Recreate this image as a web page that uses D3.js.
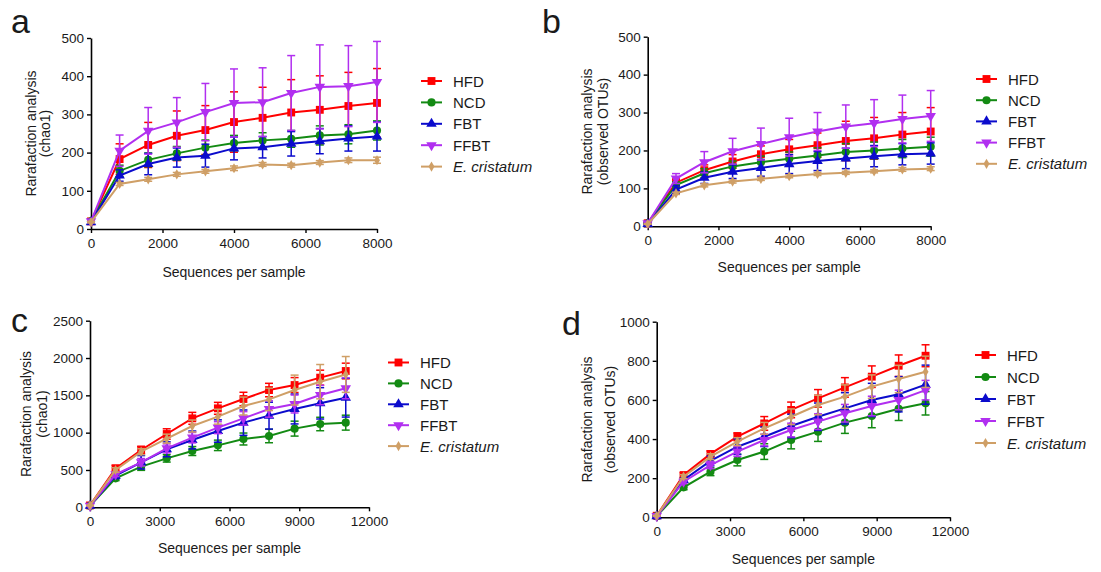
<!DOCTYPE html>
<html>
<head>
<meta charset="utf-8">
<script src="https://cdn.jsdelivr.net/npm/d3@7"></script>
<style>
  body { margin: 0; background: #fff; }
  svg text { font-family: Arial, "Liberation Sans", sans-serif; fill: #1a1a1a; }
</style>
</head>
<body>
<div class="canvas"></div>
<script>
// groups and styles
const groups = ['HFD', 'NCD', 'FBT', 'FFBT', 'E. cristatum'];
const colors = ['#ff0000', '#138a13', '#0b0bcc', '#b12ff0', '#cf9f66'];
const shapes = ['square', 'circle', 'up', 'down', 'diamond'];

// sampling depths
const depthsAB = [0, 800, 1600, 2400, 3200, 4000, 4800, 5600, 6400, 7200, 8000];
const depthsCD = [0, 1100, 2200, 3300, 4400, 5500, 6600, 7700, 8800, 9900, 11000];

// panel a - chao1
const aHFD  = [20, 183, 220, 244, 259, 280, 291, 305, 312, 322, 330];
const aNCD  = [20, 152, 181, 198, 213, 225, 232, 236, 245, 248, 258];
const aFBT  = [18, 140, 170, 187, 192, 211, 214, 223, 230, 237, 242];
const aFFBT = [20, 205, 257, 279, 306, 330, 332, 356, 372, 374, 385];
const aEC   = [18, 118, 130, 143, 151, 159, 169, 167, 174, 180, 180];
const aHFDErr  = [3, 40, 59, 65, 64, 79, 80, 86, 89, 88, 90];
const aNCDErr  = [2, 15, 18, 18, 20, 20, 20, 22, 25, 25, 25];
const aFBTErr  = [2, 15, 28, 25, 30, 30, 28, 32, 33, 33, 38];
const aFFBTErr = [3, 41, 61, 65, 75, 89, 90, 98, 110, 106, 106];
const aECErr   = [2, 4, 5, 5, 5, 6, 5, 5, 5, 6, 8];

// panel b - observed OTUs
const bHFD  = [8, 115, 148, 171, 190, 203, 214, 225, 232, 242, 250];
const bNCD  = [8, 109, 140, 158, 169, 178, 187, 196, 200, 205, 210];
const bFBT  = [6, 97, 128, 144, 154, 164, 172, 179, 185, 190, 192];
const bFFBT = [8, 126, 169, 198, 217, 235, 250, 263, 272, 283, 291];
const bEC   = [6, 87, 108, 118, 125, 132, 138, 141, 145, 150, 152];
const bHFDErr  = [2, 10, 14, 18, 22, 26, 32, 52, 55, 58, 63];
const bNCDErr  = [2, 8, 12, 14, 16, 18, 20, 22, 22, 24, 25];
const bFBTErr  = [2, 10, 15, 18, 22, 25, 25, 27, 28, 28, 28];
const bFFBTErr = [2, 13, 28, 34, 42, 50, 50, 57, 62, 63, 67];
const bECErr   = [1, 3, 4, 4, 4, 4, 4, 4, 4, 5, 5];

// panel c - chao1
const cHFD  = [25, 522, 768, 982, 1192, 1326, 1451, 1571, 1638, 1737, 1826];
const cNCD  = [20, 388, 545, 656, 754, 830, 915, 955, 1054, 1116, 1134];
const cFBT  = [20, 424, 603, 777, 902, 1022, 1134, 1228, 1317, 1393, 1469];
const cFFBT = [20, 442, 603, 790, 933, 1067, 1192, 1317, 1384, 1504, 1594];
const cEC   = [25, 500, 745, 920, 1089, 1214, 1357, 1446, 1571, 1683, 1780];
const cHFDErr  = [5, 40, 50, 70, 80, 80, 90, 90, 100, 100, 105];
const cNCDErr  = [5, 30, 50, 50, 60, 70, 80, 90, 100, 90, 100];
const cFBTErr  = [5, 40, 90, 100, 120, 150, 170, 180, 200, 210, 260];
const cFFBTErr = [5, 30, 50, 60, 70, 80, 90, 110, 120, 130, 140];
const cECErr   = [5, 30, 40, 60, 80, 100, 120, 150, 200, 230, 240];

// panel d - observed OTUs
const dHFD  = [8, 216, 324, 412, 480, 549, 608, 664, 719, 775, 826];
const dNCD  = [6, 153, 233, 293, 336, 395, 438, 484, 518, 555, 583];
const dFBT  = [6, 191, 288, 361, 412, 467, 514, 557, 600, 629, 678];
const dFFBT = [6, 182, 267, 336, 395, 446, 489, 532, 569, 600, 650];
const dEC   = [8, 208, 310, 387, 455, 514, 574, 617, 668, 707, 744];
const dHFDErr  = [2, 12, 15, 20, 35, 40, 45, 50, 55, 55, 56];
const dNCDErr  = [2, 12, 20, 30, 40, 45, 50, 55, 60, 60, 60];
const dFBTErr  = [2, 10, 25, 40, 50, 60, 70, 80, 85, 90, 100];
const dFFBTErr = [2, 10, 18, 25, 30, 35, 40, 45, 50, 50, 50];
const dECErr   = [2, 10, 15, 20, 30, 40, 50, 60, 60, 70, 80];

const xTicksAB = [0, 2000, 4000, 6000, 8000];
const xTicksCD = [0, 3000, 6000, 9000, 12000];

const [width, height] = [1101, 572];
const svg = d3.select('.canvas')
              .append('svg')
              .attr('width', width)
              .attr('height', height);

const panels = [
  { letter: 'a', lx: 11, ly: 33, x0: 91, x1: 377, y0: 229, y1: 38,
    xmax: 8000, xticks: xTicksAB, ymax: 500, ystep: 100,
    depths: depthsAB, vals: [aHFD, aNCD, aFBT, aFFBT, aEC], errs: [aHFDErr, aNCDErr, aFBTErr, aFFBTErr, aECErr],
    ytitle: ['Rarafaction analysis', '(chao1)'], tx: [31, 45], xtY: 272,
    legX: 421, legY: 81, legStep: 21.4 },
  { letter: 'b', lx: 542, ly: 33, x0: 647.7, x1: 930.7, y0: 226.3, y1: 36.7,
    xmax: 8000, xticks: xTicksAB, ymax: 500, ystep: 100,
    depths: depthsAB, vals: [bHFD, bNCD, bFBT, bFFBT, bEC], errs: [bHFDErr, bNCDErr, bFBTErr, bFFBTErr, bECErr],
    ytitle: ['Rarafaction analysis', '(observed OTUs)'], tx: [587, 603], xtY: 267,
    legX: 976, legY: 79, legStep: 21.2 },
  { letter: 'c', lx: 11, ly: 332, x0: 90, x1: 369, y0: 507.3, y1: 320.7,
    xmax: 12000, xticks: xTicksCD, ymax: 2500, ystep: 500,
    depths: depthsCD, vals: [cHFD, cNCD, cFBT, cFFBT, cEC], errs: [cHFDErr, cNCDErr, cFBTErr, cFFBTErr, cECErr],
    ytitle: ['Rarafaction analysis', '(chao1)'], tx: [26, 42], xtY: 548,
    legX: 388, legY: 362.5, legStep: 20.9 },
  { letter: 'd', lx: 562, ly: 335, x0: 656.7, x1: 950, y0: 517.3, y1: 321.7,
    xmax: 12000, xticks: xTicksCD, ymax: 1000, ystep: 200,
    depths: depthsCD, vals: [dHFD, dNCD, dFBT, dFFBT, dEC], errs: [dHFDErr, dNCDErr, dFBTErr, dFFBTErr, dECErr],
    ytitle: ['Rarafaction analysis', '(observed OTUs)'], tx: [587, 610], xtY: 559,
    legX: 975, legY: 355, legStep: 22 }
];

function markerPath(shape){
  if(shape === 'square') return d3.symbol(d3.symbolSquare, 62)();
  if(shape === 'circle') return d3.symbol(d3.symbolCircle, 52)();
  if(shape === 'diamond') return d3.symbol(d3.symbolDiamond, 30)();
  return d3.symbol(d3.symbolTriangle, 48)();
}

function drawMarker(g, shape, color, x, y){
  g.append('path')
    .attr('d', markerPath(shape))
    .attr('transform', `translate(${x},${y})` + (shape === 'down' ? ' rotate(180)' : ''))
    .attr('fill', color);
}

panels.forEach(p => {
  const x = d3.scaleLinear().domain([0, p.xmax]).range([p.x0, p.x1]);
  const y = d3.scaleLinear().domain([0, p.ymax]).range([p.y0, p.y1]);
  const g = svg.append('g');

  // axes
  const yAxis = g.append('g')
    .attr('transform', `translate(${p.x0},0)`)
    .call(d3.axisLeft(y).tickValues(d3.range(0, p.ymax + 1, p.ystep)).tickFormat(d3.format('d'))
      .tickSize(4).tickSizeOuter(0).tickPadding(3));
  const xAxis = g.append('g')
    .attr('transform', `translate(0,${p.y0})`)
    .call(d3.axisBottom(x).tickValues(p.xticks).tickFormat(d3.format('d'))
      .tickSize(4).tickSizeOuter(0).tickPadding(5));
  [xAxis, yAxis].forEach(ax => {
    ax.select('.domain').attr('stroke', '#000').attr('stroke-width', 1.6);
    ax.selectAll('.tick line').attr('stroke', '#000').attr('stroke-width', 1.4);
    ax.selectAll('.tick text').style('font-size', '13.5px')
      .style('font-family', 'Arial, "Liberation Sans", sans-serif').attr('fill', '#1a1a1a');
  });

  // titles
  g.append('text')
    .attr('x', (p.x0 + p.x1) / 2).attr('y', p.xtY + 5)
    .attr('text-anchor', 'middle').style('font-size', '14px')
    .text('Sequences per sample');
  p.ytitle.forEach((t, i) => {
    const cy = (p.y0 + p.y1) / 2;
    g.append('text')
      .attr('transform', `translate(${p.tx[i] + 5},${cy}) rotate(-90)`)
      .attr('text-anchor', 'middle').style('font-size', '14px')
      .text(t);
  });
  g.append('text')
    .attr('x', p.lx).attr('y', p.ly)
    .style('font-size', '34px')
    .text(p.letter);

  // series
  const line = d3.line().x((d, i) => x(p.depths[i])).y(d => y(d));
  groups.forEach((name, k) => {
    const vals = p.vals[k], errs = p.errs[k];
    const s = g.append('g');
    vals.forEach((v, i) => {
      const cx = x(p.depths[i]);
      s.append('line').attr('x1', cx).attr('x2', cx)
        .attr('y1', y(v - errs[i])).attr('y2', y(v + errs[i]))
        .attr('stroke', colors[k]).attr('stroke-width', 1.5);
      [v - errs[i], v + errs[i]].forEach(e => {
        s.append('line').attr('x1', cx - 4).attr('x2', cx + 4)
          .attr('y1', y(e)).attr('y2', y(e))
          .attr('stroke', colors[k]).attr('stroke-width', 1.5);
      });
    });
    s.append('path').datum(vals)
      .attr('d', line)
      .attr('fill', 'none')
      .attr('stroke', colors[k])
      .attr('stroke-width', 2);
    vals.forEach((v, i) => drawMarker(s, shapes[k], colors[k], x(p.depths[i]), y(v)));
  });

  // legend
  groups.forEach((name, k) => {
    const ly = p.legY + k * p.legStep;
    g.append('line')
      .attr('x1', p.legX).attr('x2', p.legX + 21)
      .attr('y1', ly).attr('y2', ly)
      .attr('stroke', colors[k]).attr('stroke-width', 2);
    drawMarker(g, shapes[k], colors[k], p.legX + 10.5, ly);
    g.append('text')
      .attr('x', p.legX + 32).attr('y', ly + 5.5)
      .style('font-size', '15px')
      .style('font-style', k === 4 ? 'italic' : 'normal')
      .text(name);
  });
});
</script>
</body>
</html>
